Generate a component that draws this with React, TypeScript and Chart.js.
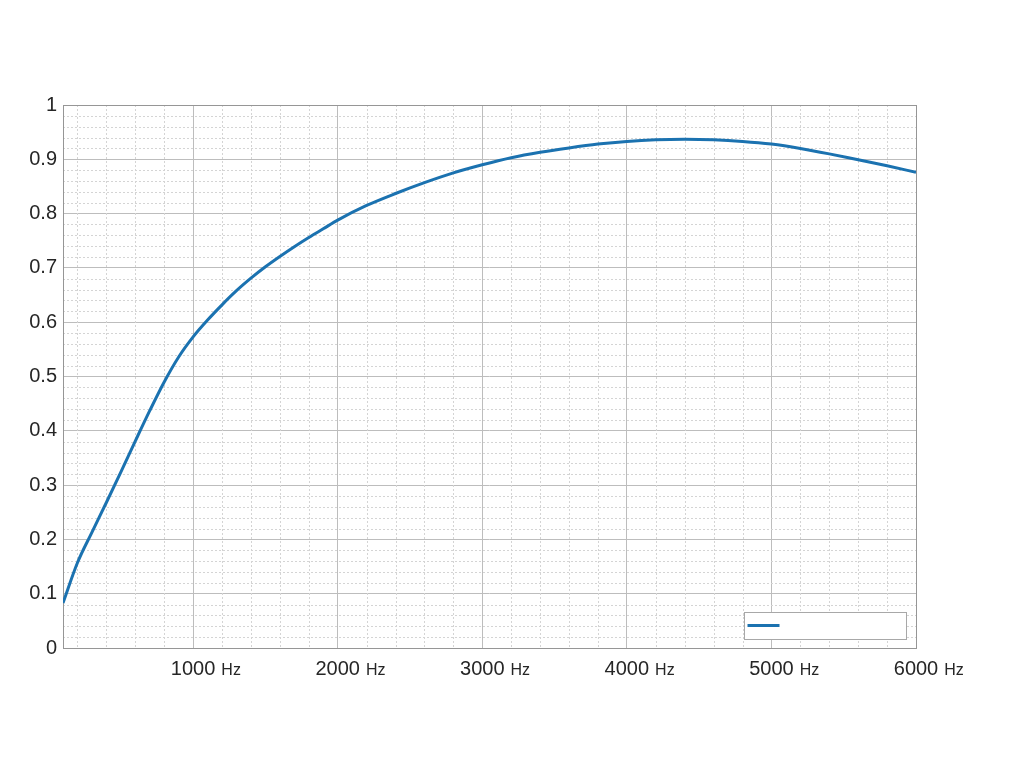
import React, { useEffect, useRef } from "react";
import { Chart, registerables } from "chart.js";

Chart.register(...registerables);

// Frequency (Hz) and response values
const frequencies = [100, 200, 300, 400, 500, 600, 700, 800, 900, 1000, 1100, 1200, 1300, 1400, 1500, 1600, 1700, 1800, 1900, 2000, 2200, 2400, 2600, 2800, 3000, 3200, 3400, 3600, 3800, 4000, 4200, 4400, 4600, 4800, 5000, 5200, 5400, 5600, 5800, 6000];
const responses = [0.083, 0.157, 0.213, 0.268, 0.324, 0.381, 0.437, 0.490, 0.536, 0.573, 0.604, 0.632, 0.658, 0.681, 0.702, 0.721, 0.739, 0.756, 0.772, 0.788, 0.815, 0.837, 0.857, 0.875, 0.890, 0.903, 0.913, 0.921, 0.928, 0.933, 0.936, 0.937, 0.936, 0.933, 0.928, 0.920, 0.910, 0.899, 0.888, 0.876];

const xMin = 100;
const xMax = 6000;
const xMinorStep = 200;
const xMajorStep = 1000;
const yMin = 0;
const yMax = 1;
const yMinorStep = 0.02;
const unitLabel = "Hz";
const seriesLabel = "";

const lineColor = "#1b72b0";
const majorGrid = "#bdbdbd";
const minorGrid = "#d4d4d4";
const frameColor = "#969696";
const textColor = "#262626";

const isMajorX = (v: number) => Math.abs(v % xMajorStep) < 1e-6;
const isMajorY = (v: number) => Math.abs(Math.round(v * 100) % 10) < 1e-6;

const chartDecorations = {
  id: "chartDecorations",
  beforeDatasetsDraw(chart: any) {
    const { ctx, chartArea, scales } = chart;
    const { left, right, top, bottom } = chartArea;
    ctx.save();
    ctx.strokeStyle = minorGrid;
    ctx.lineWidth = 1;
    ctx.setLineDash([2, 2]);
    scales.x.ticks.forEach((t: any) => {
      if (isMajorX(t.value)) return;
      const px = Math.round(scales.x.getPixelForValue(t.value)) + 0.5;
      ctx.beginPath();
      ctx.moveTo(px, top);
      ctx.lineTo(px, bottom);
      ctx.stroke();
    });
    scales.y.ticks.forEach((t: any) => {
      if (isMajorY(t.value)) return;
      const py = Math.round(scales.y.getPixelForValue(t.value)) + 0.5;
      ctx.beginPath();
      ctx.moveTo(left, py);
      ctx.lineTo(right, py);
      ctx.stroke();
    });
    ctx.setLineDash([]);
    ctx.strokeStyle = frameColor;
    ctx.strokeRect(Math.round(left) + 0.5, Math.round(top) + 0.5, Math.round(right - left), Math.round(bottom - top));
    ctx.restore();
  },
  afterDraw(chart: any) {
    const { ctx, chartArea, scales } = chart;
    ctx.save();
    // unit suffix after each x label
    ctx.font = "20px 'Liberation Sans', Arial, sans-serif";
    const numFont = ctx.font;
    scales.x.ticks.forEach((t: any) => {
      if (!isMajorX(t.value)) return;
      const px = scales.x.getPixelForValue(t.value);
      ctx.font = numFont;
      const w = ctx.measureText(String(t.value)).width;
      ctx.font = "16px 'Liberation Sans', Arial, sans-serif";
      ctx.fillStyle = textColor;
      ctx.textAlign = "left";
      ctx.textBaseline = "alphabetic";
      ctx.fillText(unitLabel, px + w / 2 + 6, chartArea.bottom + 27);
    });
    // legend box inside the plot area
    const ds = chart.data.datasets[0];
    const bw = 162;
    const bh = 27;
    const bx = Math.round(chartArea.right - 10 - bw) + 0.5;
    const by = Math.round(chartArea.bottom - 9 - bh) + 0.5;
    ctx.fillStyle = "#ffffff";
    ctx.fillRect(bx, by, bw, bh);
    ctx.strokeStyle = "#a8a8a8";
    ctx.lineWidth = 1;
    ctx.strokeRect(bx, by, bw, bh);
    ctx.strokeStyle = ds.borderColor;
    ctx.lineWidth = 3;
    ctx.beginPath();
    ctx.moveTo(bx + 3, by + 13);
    ctx.lineTo(bx + 35, by + 13);
    ctx.stroke();
    ctx.fillStyle = textColor;
    ctx.font = "15px 'Liberation Sans', Arial, sans-serif";
    ctx.textBaseline = "middle";
    ctx.fillText(ds.label, bx + 42, by + 13);
    ctx.restore();
  },
};

export default function App() {
  const canvasRef = useRef<HTMLCanvasElement | null>(null);

  useEffect(() => {
    if (!canvasRef.current) return;
    const points = frequencies.map((f, i) => ({ x: f, y: responses[i] }));
    const chart = new Chart(canvasRef.current, {
      type: "line",
      data: {
        datasets: [
          {
            label: seriesLabel,
            data: points,
            borderColor: lineColor,
            borderWidth: 3,
            pointRadius: 0,
            fill: false,
            cubicInterpolationMode: "monotone",
          },
        ],
      },
      options: {
        responsive: false,
        animation: false,
        events: [],
        layout: { padding: { top: 105, right: 108, left: 0, bottom: 0 } },
        plugins: { legend: { display: false }, tooltip: { enabled: false } },
        scales: {
          x: {
            type: "linear",
            min: xMin,
            max: xMax,
            afterBuildTicks(scale: any) {
              const ticks = [];
              for (let v = xMinorStep; v <= xMax; v += xMinorStep) ticks.push({ value: v });
              scale.ticks = ticks;
            },
            afterFit(scale: any) {
              scale.height = 120;
            },
            border: { display: false },
            grid: {
              drawTicks: false,
              color: (ctx: any) => (ctx.tick && isMajorX(ctx.tick.value) ? majorGrid : "rgba(0,0,0,0)"),
              lineWidth: 1,
            },
            ticks: {
              autoSkip: false,
              maxRotation: 0,
              padding: 9,
              color: textColor,
              font: { family: "'Liberation Sans', Arial, sans-serif", size: 20 },
              callback: (v: any) => (isMajorX(Number(v)) ? String(v) : ""),
            },
          },
          y: {
            type: "linear",
            min: yMin,
            max: yMax,
            afterFit(scale: any) {
              scale.width = 63;
            },
            border: { display: false },
            grid: {
              drawTicks: false,
              color: (ctx: any) => (ctx.tick && isMajorY(ctx.tick.value) ? majorGrid : "rgba(0,0,0,0)"),
              lineWidth: 1,
            },
            ticks: {
              stepSize: yMinorStep,
              autoSkip: false,
              padding: 6,
              color: textColor,
              font: { family: "'Liberation Sans', Arial, sans-serif", size: 20 },
              callback: (v: any) => {
                const n = Number(v);
                if (!isMajorY(n)) return "";
                return String(Math.round(n * 10) / 10);
              },
            },
          },
        },
      },
      plugins: [chartDecorations],
    });
    return () => chart.destroy();
  }, []);

  return (
    <div style={{ position: "absolute", left: 0, top: 0, width: 1024, height: 768, background: "#ffffff" }}>
      <canvas ref={canvasRef} width={1024} height={768} style={{ display: "block" }} />
    </div>
  );
}
